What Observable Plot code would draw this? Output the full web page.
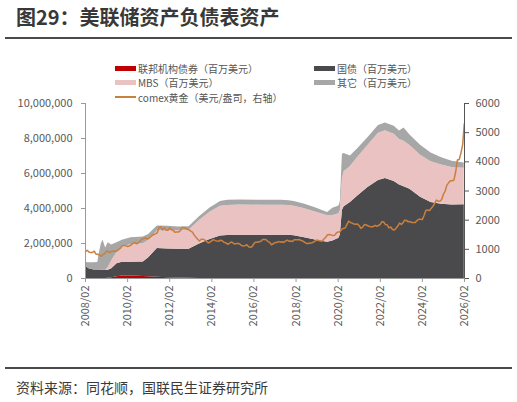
<!DOCTYPE html>
<html>
<head>
<meta charset="utf-8">
<script src="https://cdn.jsdelivr.net/npm/d3@7"></script>
<script src="https://cdn.jsdelivr.net/npm/@observablehq/plot@0.6"></script>
<style>
  html, body { margin: 0; padding: 0; background: #fff; }
  body { font-family: "Noto Sans CJK SC", "Noto Sans", sans-serif; }
  #wrap { position: relative; width: 517px; height: 402px; overflow: hidden; }
  #chart { position: absolute; left: 0; top: 0; }
  .abs { position: absolute; white-space: nowrap; }
  .title { left: 16px; top: 4px; font-size: 20px; font-weight: bold; color: #383838; line-height: 26px; }
  .hr { left: 5px; width: 507px; height: 2px; background: #4a4a4a; }
  .foot { left: 16px; top: 377px; font-size: 14px; color: #3a3a3a; line-height: 20px; }
  .lg { font-size: 10px; color: #555; line-height: 11px; }
  .sw { position: absolute; width: 21px; height: 5px; }
</style>
</head>
<body>
<div id="wrap">
  <div id="chart"></div>
  <div class="abs title">图29：美联储资产负债表资产</div>
  <div class="abs hr" style="top:37px"></div>
  <div class="abs hr" style="top:367px"></div>
  <div class="abs foot">资料来源：同花顺，国联民生证券研究所</div>
  <div id="legend"></div>
</div>
<script>
// ---- tick labels ----
const leftTicks = [0, 2000000, 4000000, 6000000, 8000000, 10000000];
const rightTicks = [0, 1000, 2000, 3000, 4000, 5000, 6000];
const xTickLabels = ["2008/02","2010/02","2012/02","2014/02","2016/02","2018/02","2020/02","2022/02","2024/02","2026/02"];

// ---- series names ----
const seriesKeys = ["agency", "treasury", "mbs", "other"];
const seriesNames = ["联邦机构债券（百万美元）", "国债（百万美元）", "MBS（百万美元）", "其它（百万美元）"];
const seriesColors = ["#c00000", "#4a4a4c", "#eac2c2", "#a7a7a7"];

// ---- balance sheet (百万美元) ----
const bsDates = ["2008-02-01","2008-04-01","2008-07-01","2008-09-01","2008-10-01","2008-11-01","2008-12-01",
  "2009-01-15","2009-03-01","2009-05-01","2009-08-01","2009-11-01","2010-04-01","2010-11-01","2011-02-01",
  "2011-07-01","2012-01-01","2012-07-01","2013-01-01","2013-07-01","2014-01-01","2014-07-01","2014-11-01",
  "2015-06-01","2016-06-01","2017-06-01","2017-10-01","2018-01-01","2018-07-01","2019-01-01","2019-08-01",
  "2019-11-01","2020-02-15","2020-03-10","2020-04-15","2020-05-15","2020-09-01","2021-01-01","2021-07-01",
  "2022-01-01","2022-05-01","2022-10-01","2023-01-01","2023-03-20","2023-07-01","2024-01-01","2024-07-01",
  "2025-01-01","2025-07-01","2026-01-28"];
const agency = [0,0,0,0,0,0,0,
  5000,20000,50000,100000,140000,150000,120000,100000,
  70000,50000,30000,10000,0,0,0,0,
  0,0,0,0,0,0,0,0,
  0,0,0,0,0,0,0,0,
  0,0,0,0,0,0,0,0,
  0,0,0];
const treasury = [720000,560000,480000,480000,480000,476000,476000,
  470000,455000,510000,740000,790000,775000,820000,1090000,
  1645000,1630000,1645000,1665000,1965000,2235000,2422000,2458000,
  2460000,2460000,2465000,2465000,2440000,2330000,2200000,2070000,
  2150000,2300000,2500000,3900000,4100000,4350000,4700000,5200000,
  5600000,5720000,5550000,5350000,5250000,5100000,4650000,4350000,
  4250000,4200000,4220000];
const mbs = [0,0,0,0,0,0,0,
  0,150000,450000,650000,850000,1020000,1050000,1000000,
  1000000,1060000,1070000,1080000,1350000,1550000,1700000,1720000,
  1740000,1730000,1720000,1700000,1690000,1660000,1600000,1520000,
  1450000,1400000,1380000,1800000,2000000,2050000,2200000,2400000,
  2700000,2720000,2700000,2600000,2600000,2500000,2400000,2320000,
  2230000,2150000,2080000];
const other = [190000,340000,420000,430000,1000000,1500000,1730000,
  1270000,1420000,900000,560000,400000,390000,380000,330000,
  290000,250000,200000,200000,220000,250000,280000,290000,
  280000,280000,280000,280000,270000,260000,250000,180000,
  420000,450000,500000,1400000,1050000,600000,500000,450000,
  450000,450000,450000,480000,750000,600000,560000,500000,
  420000,350000,300000];

// ---- comex gold (美元/盎司), monthly from 2008/02 ----
const goldStart = "2008-02-01";
const goldValues = [
  922,968,909,888,890,939,839,830,806,760,822,
  858,943,925,890,928,946,934,949,996,1043,1127,1135,
  1118,1095,1113,1148,1205,1232,1193,1215,1271,1343,1370,1391,
  1356,1372,1424,1474,1510,1529,1572,1756,1772,1665,1739,1652,
  1656,1742,1673,1650,1585,1596,1594,1630,1745,1747,1721,1688,
  1670,1627,1593,1487,1414,1343,1286,1347,1349,1316,1275,1221,
  1244,1300,1336,1299,1287,1279,1311,1296,1239,1223,1176,1200,
  1250,1227,1179,1198,1199,1181,1128,1118,1125,1157,1086,1068,
  1097,1199,1246,1242,1260,1276,1337,1340,1326,1266,1238,1157,
  1192,1234,1231,1266,1246,1260,1236,1283,1315,1280,1283,1265,
  1331,1331,1325,1335,1303,1282,1238,1202,1199,1215,1221,1250,
  1291,1320,1300,1285,1283,1359,1413,1500,1510,1495,1471,1480,
  1560,1597,1591,1683,1716,1732,1847,1968,1921,1900,1866,1858,
  1867,1808,1718,1760,1850,1834,1807,1785,1776,1777,1821,1790,
  1817,1856,1947,1937,1849,1837,1733,1765,1681,1664,1726,1798,
  1898,1855,1912,2000,1992,1942,1951,1919,1916,1916,1985,2031,
  2034,2024,2159,2331,2351,2326,2398,2470,2571,2690,2651,2648,
  2710,2895,2985,3200,3280,3350,3350,3370,3660,4060,4080,4300,
  4600];
const goldLastDate = "2026-01-28";
const goldLastValue = 5300;

// ---- build tables ----
const bs = [];
bsDates.forEach((d, i) => {
  const date = new Date(d);
  bs.push({date, s: "agency", v: agency[i]});
  bs.push({date, s: "treasury", v: treasury[i]});
  bs.push({date, s: "mbs", v: mbs[i]});
  bs.push({date, s: "other", v: other[i]});
});
const g0 = new Date(goldStart);
const gold = goldValues.map((v, i) => ({date: d3.utcMonth.offset(g0, i), v}));
gold.push({date: new Date(goldLastDate), v: goldLastValue});

const k = 10000000 / 6000;
const parseTick = d3.utcParse("%Y/%m");
const xTicks = xTickLabels.map(parseTick);
const xDomain = [xTicks[0], xTicks[xTicks.length - 1]];

const chart = Plot.plot({
  width: 517, height: 402,
  marginLeft: 85, marginRight: 53, marginTop: 103, marginBottom: 124,
  style: {fontFamily: '"Noto Sans CJK SC", "Noto Sans", sans-serif', fontSize: "11px", color: "#595959", background: "transparent", overflow: "visible"},
  x: {type: "utc", domain: xDomain, label: null},
  y: {domain: [0, 10000000], label: null},
  color: {domain: seriesKeys, range: seriesColors},
  marks: [
    Plot.areaY(bs, {x: "date", y: "v", fill: "s", order: seriesKeys, curve: "linear"}),
    Plot.line(gold, {x: "date", y: d => d.v * k, stroke: "#c97f3e", strokeWidth: 1.5}),
    Plot.ruleX([xDomain[0]], {stroke: "#9a9a9a", strokeWidth: 1}),
    Plot.ruleX([xDomain[1]], {stroke: "#555", strokeWidth: 1}),
    Plot.ruleY([0], {stroke: "#9a9a9a", strokeWidth: 1}),
    Plot.axisY(leftTicks, {anchor: "left", label: null, tickFormat: d3.format(","), tickSize: 4, tickPadding: 9, stroke: "#9a9a9a", fill: "#595959"}),
    Plot.axisY(rightTicks.map(v => v * k), {anchor: "right", label: null, tickFormat: d => String(Math.round(d / k)), tickSize: 4, tickPadding: 7, stroke: "#555", fill: "#595959"}),
    Plot.axisX(xTicks, {anchor: "bottom", label: null, tickFormat: d3.utcFormat("%Y/%m"), tickRotate: -90, tickSize: 4, tickPadding: 3, stroke: "#9a9a9a", fill: "#595959"})
  ]
});
document.getElementById("chart").appendChild(chart);

// ---- legend ----
const legend = document.getElementById("legend");
const items = [
  {name: seriesNames[0], color: seriesColors[0], x: 115, y: 68, type: "box"},
  {name: seriesNames[2], color: seriesColors[2], x: 115, y: 82.5, type: "box"},
  {name: "comex黄金（美元/盎司，右轴）", color: "#c97f3e", x: 115, y: 97, type: "line"},
  {name: seriesNames[1], color: seriesColors[1], x: 314, y: 68, type: "box"},
  {name: seriesNames[3], color: seriesColors[3], x: 314, y: 82.5, type: "box"}
];
items.forEach(it => {
  const sw = document.createElement("div");
  sw.className = "sw";
  sw.style.left = it.x + "px";
  if (it.type === "box") { sw.style.top = (it.y - 2.5) + "px"; sw.style.height = "5px"; }
  else { sw.style.top = (it.y - 1) + "px"; sw.style.height = "2px"; }
  sw.style.background = it.color;
  legend.appendChild(sw);
  const t = document.createElement("div");
  t.className = "abs lg";
  t.style.left = (it.x + 23) + "px";
  t.style.top = (it.y - 5.5) + "px";
  t.textContent = it.name;
  legend.appendChild(t);
});
</script>
</body>
</html>
